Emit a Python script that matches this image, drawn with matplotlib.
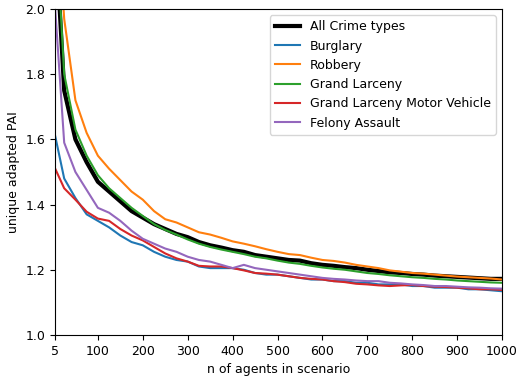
import matplotlib
matplotlib.use('Agg')
import matplotlib.pyplot as plt

plt.rcParams['font.size'] = 9

# n of agents
agents = [5] + list(range(25, 1001, 25))

all_crime = [2.25, 1.75, 1.60, 1.53, 1.47, 1.44, 1.41, 1.38, 1.36, 1.34, 1.325, 1.31,
             1.30, 1.285, 1.275, 1.268, 1.26, 1.255, 1.245, 1.24, 1.235, 1.23, 1.228,
             1.22, 1.215, 1.212, 1.208, 1.205, 1.20, 1.196, 1.192, 1.19, 1.187, 1.185,
             1.182, 1.18, 1.178, 1.176, 1.174, 1.172, 1.172]
burglary = [1.61, 1.48, 1.42, 1.37, 1.35, 1.33, 1.305, 1.285, 1.275, 1.255, 1.24, 1.23,
            1.225, 1.21, 1.205, 1.205, 1.205, 1.20, 1.19, 1.185, 1.185, 1.18, 1.175,
            1.17, 1.17, 1.165, 1.165, 1.16, 1.16, 1.155, 1.155, 1.155, 1.15, 1.15,
            1.145, 1.145, 1.145, 1.14, 1.14, 1.137, 1.134]
robbery = [2.4, 1.97, 1.72, 1.62, 1.55, 1.51, 1.475, 1.44, 1.415, 1.38, 1.355, 1.345,
           1.33, 1.315, 1.308, 1.298, 1.287, 1.28, 1.272, 1.263, 1.255, 1.248, 1.245,
           1.237, 1.23, 1.227, 1.222, 1.215, 1.21, 1.205, 1.198, 1.194, 1.19, 1.188,
           1.185, 1.182, 1.179, 1.177, 1.175, 1.173, 1.17]
grand_larceny = [2.3, 1.80, 1.63, 1.55, 1.49, 1.45, 1.42, 1.39, 1.365, 1.34, 1.322, 1.308,
                 1.293, 1.28, 1.27, 1.262, 1.255, 1.248, 1.24, 1.235, 1.228, 1.222, 1.218,
                 1.212, 1.207, 1.203, 1.20, 1.195, 1.19, 1.187, 1.183, 1.18, 1.177,
                 1.175, 1.172, 1.17, 1.167, 1.165, 1.163, 1.161, 1.16]
glmv = [1.51, 1.45, 1.415, 1.378, 1.357, 1.35, 1.325, 1.305, 1.29, 1.27, 1.25, 1.235,
        1.225, 1.212, 1.21, 1.21, 1.205, 1.198, 1.19, 1.188, 1.185, 1.18, 1.175,
        1.172, 1.17, 1.165, 1.162, 1.157, 1.155, 1.152, 1.15, 1.152, 1.153, 1.15,
        1.148, 1.147, 1.145, 1.143, 1.14, 1.14, 1.138]
felony_assault = [2.0, 1.59, 1.50, 1.445, 1.39, 1.375, 1.35, 1.32, 1.295, 1.28, 1.265,
                  1.255, 1.24, 1.23, 1.225, 1.215, 1.205, 1.215, 1.205, 1.20, 1.195,
                  1.19, 1.185, 1.18, 1.175, 1.172, 1.17, 1.167, 1.165, 1.165, 1.16,
                  1.158, 1.155, 1.153, 1.15, 1.15, 1.148, 1.146, 1.145, 1.143, 1.142]

fig, ax = plt.subplots(figsize=(5.16, 3.78), dpi=100)
fig.subplots_adjust(left=0.107, right=0.973, bottom=0.114, top=0.976)

ax.plot(agents, all_crime, color='black', linewidth=3, label='All Crime types')
ax.plot(agents, burglary, color='C0', label='Burglary')
ax.plot(agents, robbery, color='C1', label='Robbery')
ax.plot(agents, grand_larceny, color='C2', label='Grand Larceny')
ax.plot(agents, glmv, color='C3', label='Grand Larceny Motor Vehicle')
ax.plot(agents, felony_assault, color='C4', label='Felony Assault')

ax.set_xlim(5, 1000)
ax.set_ylim(1.0, 2.0)
ax.set_xticks([5] + list(range(100, 1001, 100)))
ax.set_xlabel('n of agents in scenario')
ax.set_ylabel('unique adapted PAI')
ax.legend(loc='upper right')

fig.savefig('out.png', dpi=100)
